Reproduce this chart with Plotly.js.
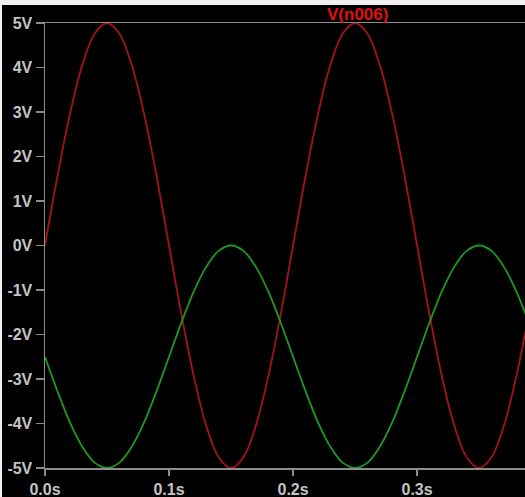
<!DOCTYPE html>
<html>
<head>
<meta charset="utf-8">
<script src="https://cdn.plot.ly/plotly-3.0.1.min.js"></script>
<style>
html,body{margin:0;padding:0;background:#f0f0f0;overflow:hidden;}
#chart{position:absolute;left:2px;top:5px;width:523px;height:492px;}
</style>
</head>
<body>
<div id="chart"></div>
<script>
// time samples (s)
const timeS = [0.00,0.01,0.02,0.03,0.04,0.05,0.06,0.07,0.08,0.09,
               0.10,0.11,0.12,0.13,0.14,0.15,0.16,0.17,0.18,0.19,
               0.20,0.21,0.22,0.23,0.24,0.25,0.26,0.27,0.28,0.29,
               0.30,0.31,0.32,0.33,0.34,0.35,0.36,0.37,0.38,0.39];
// V(n006), red trace (V)
const vN006 = [0,1.55,2.94,4.05,4.76,5,4.76,4.05,2.94,1.55,
               0,-1.55,-2.94,-4.05,-4.76,-5,-4.76,-4.05,-2.94,-1.55,
               0,1.55,2.94,4.05,4.76,5,4.76,4.05,2.94,1.55,
               0,-1.55,-2.94,-4.05,-4.76,-5,-4.76,-4.05,-2.94,-1.55];
// green trace (V)
const vGreen = [-2.5,-3.27,-3.97,-4.52,-4.88,-5,-4.88,-4.52,-3.97,-3.27,
                -2.5,-1.73,-1.03,-0.48,-0.12,0,-0.12,-0.48,-1.03,-1.73,
                -2.5,-3.27,-3.97,-4.52,-4.88,-5,-4.88,-4.52,-3.97,-3.27,
                -2.5,-1.73,-1.03,-0.48,-0.12,0,-0.12,-0.48,-1.03,-1.73];
const xTicks = [0.0,0.1,0.2,0.3];
const yTicks = [-5,-4,-3,-2,-1,0,1,2,3,4,5];
const traceName = "V(n006)";

const tickFont = {family:"Liberation Sans, Arial, sans-serif", size:16, color:"#c4c4c4", weight:"bold"};
const axisGray = "#8c8c8c";

const data = [
  {x:timeS, y:vN006, mode:"lines", name:traceName,
   line:{color:"#a3141a", width:1.8, shape:"spline", smoothing:1}},
  {x:timeS, y:vGreen, mode:"lines", name:"green",
   line:{color:"#1f9a1f", width:1.8, shape:"spline", smoothing:1}}
];

const layout = {
  width:523, height:492,
  margin:{l:43, r:0, t:18, b:29, pad:0},
  paper_bgcolor:"#000000", plot_bgcolor:"#000000",
  showlegend:false,
  xaxis:{range:[0,0.387], tickvals:xTicks, ticktext:xTicks.map(v=>v.toFixed(1)+"s"),
         showgrid:false, zeroline:false, showline:true, mirror:true,
         linecolor:axisGray, linewidth:1.5, ticks:"outside", ticklen:6,
         tickcolor:axisGray, tickwidth:1.5, tickfont:tickFont, automargin:false},
  yaxis:{range:[-5,5], tickvals:yTicks, ticktext:yTicks.map(v=>v+"V"),
         showgrid:false, zeroline:false, showline:true, mirror:false,
         linecolor:axisGray, linewidth:1.5, ticks:"outside", ticklen:8,
         tickcolor:axisGray, tickwidth:1.5, tickfont:tickFont, automargin:false},
  annotations:[{text:traceName, xref:"x", x:0.2516, yref:"paper", y:1, yanchor:"bottom",
                xanchor:"center", yshift:-3, showarrow:false,
                font:{family:"Liberation Sans, Arial, sans-serif", size:17, color:"#e01010", weight:"bold"}}]
};

Plotly.newPlot("chart", data, layout, {displayModeBar:false, staticPlot:true});
</script>
</body>
</html>
